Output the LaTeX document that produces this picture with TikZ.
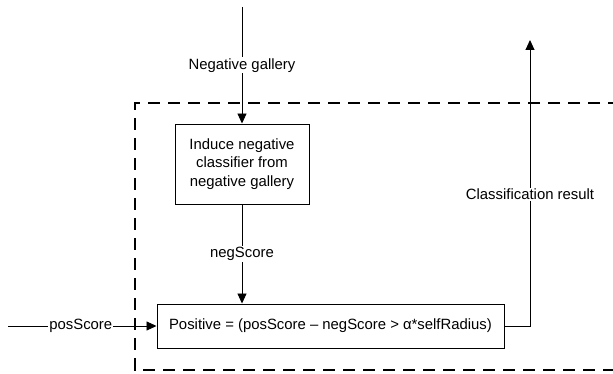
\documentclass[tikz,border=0pt]{standalone}
\usepackage{fontspec}
\setmainfont{Liberation Sans}
\usetikzlibrary{arrows.meta}
\begin{document}
\begin{tikzpicture}[x=0.03cm,y=-0.03cm,
  box/.style={draw,line width=0.8pt,fill=white,align=center,inner sep=0},
  flow/.style={line width=0.8pt,-{Triangle[length=0.3cm,width=0.27cm]}},
  lbl/.style={fill=white,inner sep=1pt},
  font=\fontsize{12.7}{15.8}\selectfont]
\useasboundingbox (0,0) rectangle (613,374);
% dashed frame, open on the right
\draw[line width=1.4pt,dash pattern=on 0.36cm off 0.24cm] (620,103) -- (135,103) -- (135,370) -- (620,370);

\node[box,minimum width=4.02cm,minimum height=2.4cm] (induce) at (242,164) {Induce negative\\classifier from\\negative gallery};
\node[box,minimum width=10.41cm,minimum height=1.32cm] (rule) at (330.5,326) {Positive = (posScore – negScore > α*selfRadius)};

\coordinate (gal) at (242,7);
\coordinate (pin) at (8,326);
\coordinate (res) at (530,40);

\draw[flow] (gal) -- node[lbl]{Negative gallery} (induce);
\draw[flow] (induce) -- node[lbl]{negScore} (induce |- rule.north);
\draw[flow] (pin) -- node[lbl,pos=0.49]{posScore} (rule);
\draw[flow] (rule) -| node[lbl,pos=0.73]{Classification result} (res);
\end{tikzpicture}
\end{document}
